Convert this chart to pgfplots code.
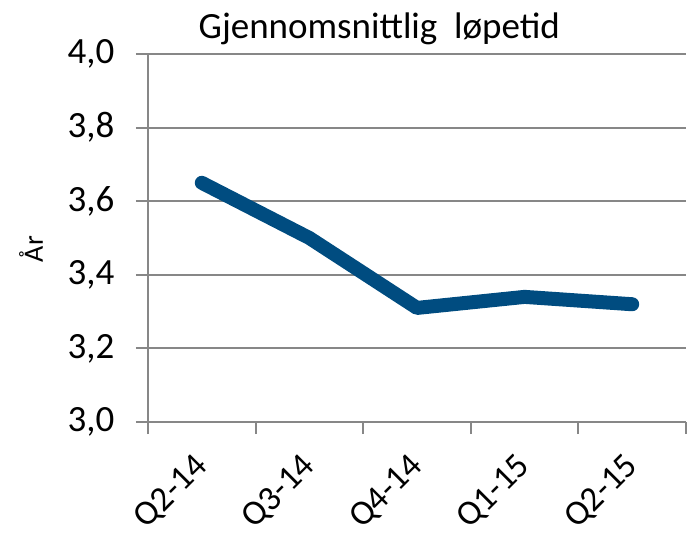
\documentclass[border=0pt]{standalone}
\usepackage{pgfplots}
\pgfplotsset{compat=1.18}
\usepackage{fontspec}
\setmainfont{Carlito}
\definecolor{linec}{HTML}{004C80}
\definecolor{gridc}{HTML}{878787}
\begin{document}
\begin{tikzpicture}
\useasboundingbox (-148pt,-114pt) rectangle (539pt,422pt);
\begin{axis}[
  at={(0pt,0pt)}, anchor=south west,
  scale only axis, width=538pt, height=368pt,
  xmin=-0.5, xmax=4.5, ymin=3, ymax=4,
  axis lines*=left,
  axis line style={gridc, line width=2pt},
  ytick={3.0,3.2,3.4,3.6,3.8,4.0},
  xtick={-0.5,0.5,1.5,2.5,3.5,4.5},
  x tick label as interval,
  xticklabels={Q2-14,Q3-14,Q4-14,Q1-15,Q2-15},
  ymajorgrids,
  major grid style={gridc, line width=2pt},
  tick align=outside,
  major tick length=12pt,
  tick style={gridc, line width=2pt},
  /pgf/number format/.cd, fixed, fixed zerofill, precision=1, use comma, assume math mode=true,
  /pgfplots/.cd,
  yticklabel style={font=\fontsize{37}{40}\selectfont, anchor=east, xshift=-18pt},
  xticklabel style={font=\fontsize{35}{38}\selectfont, xshift=3pt, yshift=-25pt, rotate=45, anchor=east},
  title={Gjennomsnittlig\ \ løpetid},
  title style={font=\fontsize{37}{42}\selectfont, at={(axis description cs:0.43,1)}, anchor=base, yshift=9pt},
  ylabel={År},
  ylabel style={font=\fontsize{28}{32}\selectfont, at={(axis description cs:-0.2175,0.47)}, anchor=center, rotate=0},
  clip=false,
]
\addplot[linec, line width=14pt, line cap=round, line join=round] coordinates {
  (0,3.65) (1,3.50) (2,3.31) (3,3.34) (4,3.32)
};
\end{axis}
\end{tikzpicture}
\end{document}
